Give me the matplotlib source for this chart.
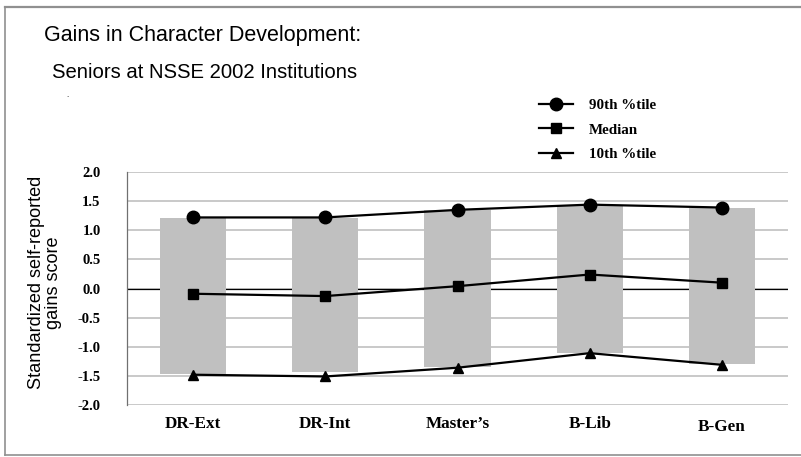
import matplotlib
matplotlib.use("Agg")
import matplotlib.pyplot as plt
import matplotlib.transforms as mtransforms
from matplotlib.lines import Line2D
import numpy as np

categories = ["DR-Ext", "DR-Int", "Master\u2019s", "B-Lib", "B-Gen"]
p90 = [1.22, 1.22, 1.35, 1.44, 1.39]
median = [-0.09, -0.13, 0.04, 0.24, 0.10]
p10 = [-1.48, -1.51, -1.36, -1.11, -1.31]
bar_top = [1.21, 1.21, 1.34, 1.42, 1.38]
bar_bottom = [-1.47, -1.44, -1.35, -1.10, -1.30]
yticks = [2.0, 1.5, 1.0, 0.5, 0.0, -0.5, -1.0, -1.5, -2.0]

fig = plt.figure(figsize=(8.01, 4.57), dpi=100)
ax = fig.add_axes([127/801, 1-405/457, (788-127)/801, (405-172)/457])

x = np.arange(len(categories))
heights = [t - b for t, b in zip(bar_top, bar_bottom)]
ax.bar(x, heights, bottom=bar_bottom, width=0.5, color="#c0c0c0", zorder=2)

ax.plot(x, p90, color="black", lw=1.6, marker="o", ms=9, zorder=4, label="90th %tile")
ax.plot(x, median, color="black", lw=1.6, marker="s", ms=7, zorder=4, label="Median")
ax.plot(x, p10, color="black", lw=1.6, marker="^", ms=7, zorder=4, label="10th %tile")

ax.set_xlim(-0.5, len(categories) - 0.5)
ax.set_ylim(-2.0, 2.0)
ax.set_yticks(yticks)
ax.set_yticklabels([f"{v:.1f}" for v in yticks], fontfamily="Liberation Serif",
                   fontweight="bold", fontsize=10.5)
ax.set_xticks(x)
ax.set_xticklabels(categories, fontfamily="Liberation Serif", fontweight="bold", fontsize=12.3)
ax.tick_params(axis="both", length=0)
ax.tick_params(axis="y", pad=19)
ax.tick_params(axis="x", pad=8)

lbl = ax.get_xticklabels()[4]
lbl.set_transform(lbl.get_transform() + mtransforms.ScaledTranslation(0, -3/100, fig.dpi_scale_trans))

ax.yaxis.grid(True, color="#c0c0c0", lw=1.2, zorder=0)
ax.set_axisbelow(True)
ax.axhline(0, color="black", lw=0.9, zorder=1)
for s in ["top", "right", "bottom"]:
    ax.spines[s].set_visible(False)
ax.spines["left"].set_color("#707070")
ax.spines["left"].set_linewidth(0.9)

ax.set_ylabel("Standardized self-reported\ngains score", fontfamily="Liberation Sans",
              fontsize=13.1, labelpad=11, linespacing=1.0)
ax.yaxis.label.set_y(0.526)

leg = ax.legend(loc="upper left", bbox_to_anchor=(531/801, 1-91/457),
                bbox_transform=fig.transFigure, frameon=False,
                prop={"family": "Liberation Serif", "weight": "bold", "size": 10.8},
                handlelength=2.3, handletextpad=1.05, labelspacing=0.74, borderpad=0)

fig.text(44/801, 1-36/457, "Gains in Character Development:", fontfamily="Liberation Sans",
         fontsize=15.5, va="center", ha="left")
fig.text(52/801, 1-73/457, "Seniors at NSSE 2002 Institutions", fontfamily="Liberation Sans",
         fontsize=14.6, va="center", ha="left")
fig.text(66/801, 1-95/457, ".", fontsize=5, va="center", ha="left")

border_color = "#909090"
fig.add_artist(Line2D([5/801, 1.0], [1-7/457, 1-7/457], color=border_color, lw=1.6,
                      transform=fig.transFigure))
fig.add_artist(Line2D([5/801, 5/801], [1-7/457, 1-455/457], color=border_color, lw=1.2,
                      transform=fig.transFigure))
fig.add_artist(Line2D([5/801, 1.0], [1-455/457, 1-455/457], color=border_color, lw=1.2,
                      transform=fig.transFigure))

fig.savefig("out.png", dpi=100)
